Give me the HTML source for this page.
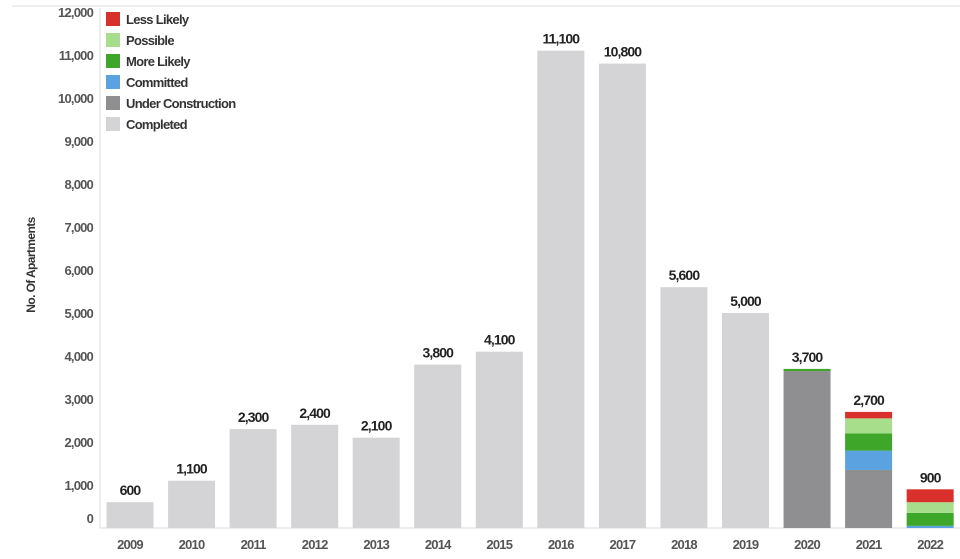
<!DOCTYPE html>
<html><head><meta charset="utf-8"><style>
body{margin:0;background:#fff;}
svg{display:block;font-family:"Liberation Sans",sans-serif;}
</style></head><body>
<svg id="chart" width="960" height="559" viewBox="0 0 960 559">
<line x1="12" y1="6" x2="960" y2="6" stroke="#ddd" stroke-width="1"/>
<line x1="100" y1="8" x2="100" y2="528" stroke="#ddd" stroke-width="1"/>
<line x1="100" y1="528" x2="960" y2="528" stroke="#ddd" stroke-width="1"/>
<text transform="translate(35,265) rotate(-90)" text-anchor="middle" font-size="12" font-weight="bold" fill="#333" letter-spacing="-0.6">No. Of Apartments</text>
<g id="yticks"></g><g id="bars"></g><g id="legend"></g>
</svg>
<script>
const years=["2009","2010","2011","2012","2013","2014","2015","2016","2017","2018","2019","2020","2021","2022"];
const completed=[600,1100,2300,2400,2100,3800,4100,11100,10800,5600,5000,0,0,0];
const underConstruction=[0,0,0,0,0,0,0,0,0,0,0,3650,1350,0];
const committed=[0,0,0,0,0,0,0,0,0,0,0,0,450,50];
const moreLikely=[0,0,0,0,0,0,0,0,0,0,0,50,400,300];
const possible=[0,0,0,0,0,0,0,0,0,0,0,0,350,250];
const lessLikely=[0,0,0,0,0,0,0,0,0,0,0,0,150,300];
const totalLabels=["600","1,100","2,300","2,400","2,100","3,800","4,100","11,100","10,800","5,600","5,000","3,700","2,700","900"];
const yTicks=[0,1000,2000,3000,4000,5000,6000,7000,8000,9000,10000,11000,12000];
const yTickLabels=["0","1,000","2,000","3,000","4,000","5,000","6,000","7,000","8,000","9,000","10,000","11,000","12,000"];
const seriesNames=["Less Likely","Possible","More Likely","Committed","Under Construction","Completed"];
const seriesColors=["#d9302c","#a6de8c","#3ea628","#5ba3e0","#8f8e91","#d4d4d6"];
const NS="http://www.w3.org/2000/svg";
const y=v=>528-v*0.043;
const x=i=>130+i*61.55;
const bw=47;
function mk(t,a,p){const e=document.createElementNS(NS,t);for(const k in a)e.setAttribute(k,a[k]);p.appendChild(e);return e;}
const yt=document.getElementById('yticks');
yTicks.forEach((v,i)=>{const t=mk('text',{x:93,y:(v===0?y(v)-5:y(v)+5),'text-anchor':'end','font-size':13,'font-weight':'bold',fill:'#555','letter-spacing':'-0.8'},yt);


t.textContent=yTickLabels[i];});
const bars=document.getElementById('bars');
const stack=[completed,underConstruction,committed,moreLikely,possible,lessLikely];
const stackColors=["#d4d4d6","#8f8e91","#5ba3e0","#3ea628","#a6de8c","#d9302c"];
const stackNames=["completed","under-construction","committed","more-likely","possible","less-likely"];
years.forEach((yr,i)=>{let base=0;
stack.forEach((s,k)=>{const v=s[i];if(v>0){const r=mk('rect',{x:x(i)-bw/2,y:y(base+v),width:bw,height:y(base)-y(base+v),fill:stackColors[k]},bars);


base+=v;}});
const vl=mk('text',{x:x(i),y:y(base)-7,'text-anchor':'middle','font-size':14,'font-weight':'bold',fill:'#222','letter-spacing':'-0.9'},bars);


vl.textContent=totalLabels[i];
const xl=mk('text',{x:x(i),y:549,'text-anchor':'middle','font-size':13,'font-weight':'bold',fill:'#555','letter-spacing':'-0.8'},bars);


xl.textContent=yr;});
const lg=document.getElementById('legend');
seriesNames.forEach((n,i)=>{const g=mk('g',{},lg);


mk('rect',{x:106,y:12+i*21,width:14,height:14,fill:seriesColors[i]},g);
const t=mk('text',{x:126,y:24+i*21,'font-size':13,'font-weight':'bold',fill:'#333','letter-spacing':'-0.7'},g);
t.textContent=n;});
</script>
</body></html>
